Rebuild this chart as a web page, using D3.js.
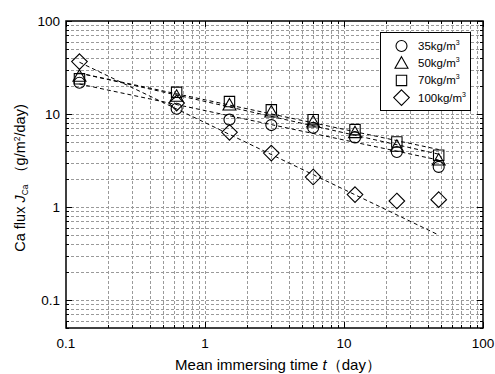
<!DOCTYPE html>
<html>
<head>
<meta charset="utf-8">
<script src="https://d3js.org/d3.v7.min.js"></script>
<style>
  body { margin: 0; background: #fff; }
  svg { display: block; font-family: "Liberation Sans", Arial, sans-serif; }
</style>
</head>
<body>
<svg class="board" width="495" height="374"></svg>
<script>
// mean immersing time (day)
var times = [0.125, 0.625, 1.5, 3, 6, 12, 24, 48];

// Ca flux (g/m2/day) per cement content
var flux35 = [21.7, 11.4, 8.7, 7.6, 7.1, 5.6, 3.9, 2.7];
var flux50 = [25.5, 15.5, 12.5, 10.5, 8.2, 6.3, 4.5, 3.2];
var flux70 = [23.9, 17.1, 13.6, 11.1, 8.7, 6.8, 5.0, 3.6];
var flux100 = [36.6, 13.1, 6.35, 3.8, 2.1, 1.36, 1.16, 1.2];

// dashed fit lines: value at first and last time
var fitTimes = [0.125, 48];
var fit35 = [21.0, 3.2];
var fit50 = [27.5, 3.7];
var fit70 = [27.5, 4.15];
var fit100 = [36, 0.5];

var seriesNames = ['35', '50', '70', '100'];
var xTicks = [0.1, 1, 10, 100];
var yTicks = [0.1, 1, 10, 100];

var series = [
  {name: seriesNames[0], vals: flux35, fit: fit35, shape: 'circle'},
  {name: seriesNames[1], vals: flux50, fit: fit50, shape: 'triangle'},
  {name: seriesNames[2], vals: flux70, fit: fit70, shape: 'square'},
  {name: seriesNames[3], vals: flux100, fit: fit100, shape: 'diamond'}
];

var svg = d3.select('.board');
var plotL = 66, plotR = 483, plotT = 21, plotB = 328;

var x = d3.scaleLog().domain([0.1, 100]).range([plotL, plotR]);
var y = d3.scaleLog().domain([0.05, 100]).range([plotB, plotT]);

// every decade tick plus 2..9 minors
function logTicks(lo, hi) {
  var out = [];
  for (var e = -3; e <= 3; e++) {
    for (var m = 1; m <= 9; m++) {
      var v = m * Math.pow(10, e);
      if (v >= lo * 0.999 && v <= hi * 1.001) out.push({v: v, major: m === 1});
    }
  }
  return out;
}
var xt = logTicks(0.1, 100);
var yt = logTicks(0.05, 100);

// grid
var grid = svg.append('g')
  .attr('stroke', '#9a9a9a')
  .attr('stroke-width', 1)
  .attr('stroke-dasharray', '3,2');
grid.selectAll('.gx')
  .data(xt.filter(function (d) { return d.v > 0.101 && d.v < 99; }))
  .enter().append('line')
  .attr('x1', function (d) { return Math.round(x(d.v)) + 0.5; })
  .attr('x2', function (d) { return Math.round(x(d.v)) + 0.5; })
  .attr('y1', plotT).attr('y2', plotB);
grid.selectAll('.gy')
  .data(yt.filter(function (d) { return d.v > 0.051 && d.v < 99; }))
  .enter().append('line')
  .attr('y1', function (d) { return Math.round(y(d.v)) + 0.5; })
  .attr('y2', function (d) { return Math.round(y(d.v)) + 0.5; })
  .attr('x1', plotL).attr('x2', plotR);

// inward ticks on all four sides
var ticks = svg.append('g').attr('stroke', '#000').attr('stroke-width', 1);
xt.forEach(function (d) {
  var px = Math.round(x(d.v)) + 0.5, len = d.major ? 6 : 3;
  ticks.append('line').attr('x1', px).attr('x2', px).attr('y1', plotB).attr('y2', plotB - len);
  ticks.append('line').attr('x1', px).attr('x2', px).attr('y1', plotT).attr('y2', plotT + len);
});
yt.forEach(function (d) {
  var py = Math.round(y(d.v)) + 0.5, len = d.major ? 6 : 3;
  ticks.append('line').attr('y1', py).attr('y2', py).attr('x1', plotL).attr('x2', plotL + len);
  ticks.append('line').attr('y1', py).attr('y2', py).attr('x1', plotR).attr('x2', plotR - len);
});

svg.append('rect')
  .attr('x', plotL).attr('y', plotT)
  .attr('width', plotR - plotL).attr('height', plotB - plotT)
  .attr('fill', 'none').attr('stroke', '#000').attr('stroke-width', 1.5);

// tick labels
var fmt = function (v) { return v < 1 ? String(v) : d3.format('d')(v); };
svg.selectAll('.xl').data(xTicks).enter().append('text')
  .attr('x', function (d) { return x(d); })
  .attr('y', 347.5)
  .attr('text-anchor', 'middle')
  .attr('font-size', 13.5)
  .text(fmt);
svg.selectAll('.yl').data(yTicks).enter().append('text')
  .attr('x', 60)
  .attr('y', function (d) { return y(d) + 5; })
  .attr('text-anchor', 'end')
  .attr('font-size', 13.5)
  .text(fmt);

// axis titles
var xtitle = svg.append('text')
  .attr('x', 278).attr('y', 370)
  .attr('text-anchor', 'middle')
  .attr('font-size', 15);
xtitle.append('tspan').text('Mean immersing time ');
xtitle.append('tspan').attr('font-style', 'italic').text('t');
xtitle.append('tspan').text('（day）');

var ytitle = svg.append('text')
  .attr('transform', 'translate(25,178) rotate(-90)')
  .attr('text-anchor', 'middle')
  .attr('font-size', 14.5);
ytitle.append('tspan').text('Ca flux  ');
ytitle.append('tspan').attr('font-style', 'italic').text('J');
ytitle.append('tspan').attr('font-size', 8.5).attr('dy', 3).text('Ca');
ytitle.append('tspan').attr('dy', -3).text(' （g/m');
ytitle.append('tspan').attr('font-size', 8.5).attr('dy', -5.5).text('2');
ytitle.append('tspan').attr('dy', 5.5).text('/day)');

// symbols
function shapePath(shape, cx, cy) {
  if (shape === 'circle') {
    var r = 5.5;
    return 'M' + (cx - r) + ',' + cy + 'a' + r + ',' + r + ' 0 1,0 ' + (2 * r) + ',0a' + r + ',' + r + ' 0 1,0 ' + (-2 * r) + ',0Z';
  }
  if (shape === 'triangle') {
    return 'M' + cx + ',' + (cy - 6.5) + 'L' + (cx + 6.5) + ',' + (cy + 5) + 'L' + (cx - 6.5) + ',' + (cy + 5) + 'Z';
  }
  if (shape === 'square') {
    var h = 5.2;
    return 'M' + (cx - h) + ',' + (cy - h) + 'h' + (2 * h) + 'v' + (2 * h) + 'h' + (-2 * h) + 'Z';
  }
  var d = 7.8;
  return 'M' + cx + ',' + (cy - d) + 'L' + (cx + d) + ',' + cy + 'L' + cx + ',' + (cy + d) + 'L' + (cx - d) + ',' + cy + 'Z';
}

// fit lines
var line = d3.line()
  .x(function (d) { return x(d[0]); })
  .y(function (d) { return y(d[1]); });
svg.selectAll('.fit').data(series).enter().append('path')
  .attr('d', function (s) { return line(fitTimes.map(function (t, i) { return [t, s.fit[i]]; })); })
  .attr('fill', 'none')
  .attr('stroke', '#000')
  .attr('stroke-width', 1)
  .attr('stroke-dasharray', '4,3');

series.forEach(function (s) {
  svg.selectAll('.pt' + s.name)
    .data(times.map(function (t, i) { return [t, s.vals[i]]; }))
    .enter().append('path')
    .attr('d', function (d) { return shapePath(s.shape, x(d[0]), y(d[1])); })
    .attr('fill', 'none')
    .attr('stroke', '#000')
    .attr('stroke-width', 1.1);
});

// legend
var lg = svg.append('g');
lg.append('rect')
  .attr('x', 380.5).attr('y', 32.5)
  .attr('width', 90).attr('height', 78)
  .attr('fill', '#fff').attr('stroke', '#000').attr('stroke-width', 1);
series.forEach(function (s, i) {
  var cy = 46 + i * 17.2;
  lg.append('path')
    .attr('d', shapePath(s.shape, 401.5, cy))
    .attr('fill', 'none').attr('stroke', '#000').attr('stroke-width', 1.1);
  var t = lg.append('text')
    .attr('x', 418).attr('y', cy + 4)
    .attr('font-size', 11.5);
  t.append('tspan').text(s.name + 'kg/m');
  t.append('tspan').attr('font-size', 7).attr('dy', -5).text('3');
});
</script>
</body>
</html>
